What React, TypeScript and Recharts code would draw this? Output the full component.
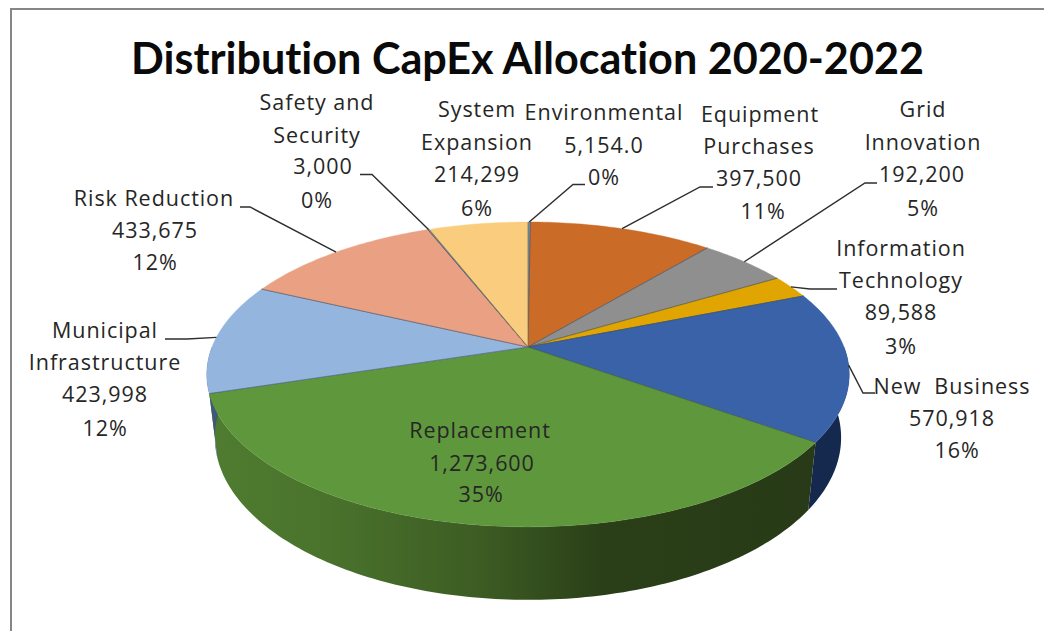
import { Pie, PieChart } from 'recharts';

const categories = [
  'Environmental',
  'Equipment Purchases',
  'Grid Innovation',
  'Information Technology',
  'New Business',
  'Replacement',
  'Municipal Infrastructure',
  'Risk Reduction',
  'Safety and Security',
  'System Expansion',
];
const values = [5154, 397500, 192200, 89588, 570918, 1273600, 423998, 433675, 3000, 214299];
const valueLabels = [
  '5,154.0',
  '397,500',
  '192,200',
  '89,588',
  '570,918',
  '1,273,600',
  '423,998',
  '433,675',
  '3,000',
  '214,299',
];
const percentLabels = ['0%', '11%', '5%', '3%', '16%', '35%', '12%', '12%', '0%', '6%'];
const sliceColors = [
  '#6f9cc4',
  '#cb6b28',
  '#8f8f8f',
  '#e0a500',
  '#3a62a9',
  '#5f983c',
  '#93b5de',
  '#eaa183',
  '#7d8a94',
  '#f9cd7d',
];
const wallColors: Record<string, string> = {
  'New Business': '#15294f',
  Replacement: 'url(#replacementWall)',
  'Municipal Infrastructure': '#3f5878',
};

const tableData = categories.map((name, i) => ({ name, value: values[i], fill: sliceColors[i] }));

// Projection of the disc: slightly narrower toward the back, like a tilted camera
const topDisc = { cx: 528, cy: 347, rx: 316, ry: 147.5, p: 0.18 };
const bottomDisc = { cx: 528, cy: 408.4, rx: 308, ry: 157, p: 0.18 };
const RAD = Math.PI / 180;

type Disc = typeof topDisc;

const project = (d: Disc, angle: number) => {
  const u = Math.cos(angle * RAD);
  const v = Math.sin(angle * RAD);
  const w = 1 + d.p * v;
  return { x: d.cx + (d.rx * u) / w, y: d.cy - (d.ry * v) / w };
};

const arcPoints = (d: Disc, from: number, to: number) => {
  const steps = Math.max(1, Math.ceil(Math.abs(from - to)));
  const pts = [];
  for (let i = 0; i <= steps; i++) pts.push(project(d, from + ((to - from) * i) / steps));
  return pts;
};

const toPath = (pts: { x: number; y: number }[]) =>
  pts.map((p, i) => `${i ? 'L' : 'M'}${p.x.toFixed(2)} ${p.y.toFixed(2)}`).join(' ');

const TopSlice = (props: any) => {
  const { startAngle, endAngle, fill } = props;
  const arc = arcPoints(topDisc, startAngle, endAngle);
  const centre = { x: topDisc.cx, y: topDisc.cy };
  const first = arc[0];
  const last = arc[arc.length - 1];
  return (
    <g>
      <path d={`M${centre.x} ${centre.y} ${toPath(arc).replace('M', 'L')} Z`} fill={fill} stroke={fill} strokeWidth={0.4} />
      <path
        d={`M${first.x} ${first.y} L${centre.x} ${centre.y} L${last.x} ${last.y}`}
        fill="none"
        stroke="#37475a"
        strokeOpacity={0.55}
        strokeWidth={0.9}
      />
    </g>
  );
};

// Side wall, only for the part of a slice that faces the viewer
const WallSlice = (props: any) => {
  const { startAngle, endAngle, name } = props;
  const hi = Math.min(startAngle, 0);
  const lo = Math.max(endAngle, -180);
  if (hi <= lo || !wallColors[name]) return <g />;
  const upper = arcPoints(topDisc, hi, lo);
  const lower = arcPoints(bottomDisc, lo, hi);
  return <path d={`${toPath(upper)} ${toPath(lower).replace('M', 'L')} Z`} fill={wallColors[name]} />;
};

const nameLines: Record<string, string[]> = {
  Environmental: ['Environmental'],
  'Equipment Purchases': ['Equipment', 'Purchases'],
  'Grid Innovation': ['Grid', 'Innovation'],
  'Information Technology': ['Information', 'Technology'],
  'New Business': ['New  Business'],
  Replacement: ['Replacement'],
  'Municipal Infrastructure': ['Municipal', 'Infrastructure'],
  'Risk Reduction': ['Risk Reduction'],
  'Safety and Security': ['Safety and', 'Security'],
  'System Expansion': ['System', 'Expansion'],
};

// Per-line centre x and baseline y of every label
const labelLayout: Record<string, { xs: number[]; ys: number[] }> = {
  Environmental: { xs: [604, 604, 604], ys: [120, 153, 185] },
  'Equipment Purchases': { xs: [760, 759, 759, 763], ys: [122, 154, 186, 219] },
  'Grid Innovation': { xs: [923, 923, 922, 923], ys: [117, 150, 182, 216] },
  'Information Technology': { xs: [901, 901, 901, 901], ys: [256, 288, 320, 354] },
  'New Business': { xs: [952, 952, 957], ys: [394, 426, 458] },
  Replacement: { xs: [480, 482, 481], ys: [438, 471, 502] },
  'Municipal Infrastructure': { xs: [105, 105, 105, 105], ys: [338, 370, 402, 436] },
  'Risk Reduction': { xs: [154, 155, 155], ys: [206, 238, 270] },
  'Safety and Security': { xs: [317, 317, 323, 317], ys: [110, 143, 174, 208] },
  'System Expansion': { xs: [477, 477, 477, 477], ys: [117, 150, 182, 216] },
};

// Elbow and end of each leader line, from the rim outward
const leaderLayout: Record<string, number[][]> = {
  Environmental: [[573, 184.5], [585, 184.5]],
  'Equipment Purchases': [[700, 187], [713, 187]],
  'Grid Innovation': [[865, 183], [877, 183]],
  'Information Technology': [[810, 289], [837, 289]],
  'New Business': [[863, 393], [875, 393]],
  'Municipal Infrastructure': [[187, 339], [165, 339]],
  'Risk Reduction': [[250, 207], [240, 207]],
  'Safety and Security': [[372, 174.5], [360, 174.5]],
};

const SliceLabel = (props: any) => {
  const i = categories.indexOf(props.name);
  const lines = [...nameLines[props.name], valueLabels[i], percentLabels[i]];
  const { xs, ys } = labelLayout[props.name];
  return (
    <text
      fontFamily="'Open Sans', sans-serif"
      fontSize={21.5}
      letterSpacing={0.95}
      fill="#262626"
      textAnchor="middle"
      xmlSpace="preserve"
    >
      {lines.map((line, n) => (
        <tspan key={n} x={xs[n]} y={ys[n]}>
          {line}
        </tspan>
      ))}
    </text>
  );
};

const LeaderLine = (props: any) => {
  const tail = leaderLayout[props.name];
  if (!tail) return <g />;
  const tip = project(topDisc, props.midAngle);
  const pts = [[tip.x, tip.y], ...tail].map((p) => p.join(',')).join(' ');
  return <polyline points={pts} fill="none" stroke="#2e2e2e" strokeWidth={1.4} />;
};

export default function App() {
  return (
    <div style={{ position: 'absolute', left: 0, top: 0, width: 1044, height: 631, background: '#fff', overflow: 'hidden' }}>
      <div
        style={{
          position: 'absolute',
          left: 10,
          top: 8,
          width: 1034,
          height: 623,
          borderLeft: '2px solid #868686',
          borderTop: '2px solid #868686',
          boxSizing: 'border-box',
        }}
      />
      <div style={{ position: 'absolute', left: 0, top: 0 }}>
        <PieChart width={1044} height={631} margin={{ top: 0, right: 0, bottom: 0, left: 0 }}>
          <defs>
            <linearGradient id="replacementWall" gradientUnits="userSpaceOnUse" x1="208" y1="0" x2="815" y2="0">
              <stop offset="0" stopColor="#4f7d30" />
              <stop offset="0.2" stopColor="#4a722c" />
              <stop offset="0.45" stopColor="#3c5c23" />
              <stop offset="0.65" stopColor="#2a3f18" />
              <stop offset="1" stopColor="#283a17" />
            </linearGradient>
          </defs>
          <text
            x={527.5}
            y={74}
            textAnchor="middle"
            fontFamily="Lato, sans-serif"
            fontWeight={700}
            fontSize={43.15}
            fill="#0a0a0a"
            style={{ fontVariantLigatures: 'none' }}
          >
            Distribution CapEx Allocation 2020-2022
          </text>
          <Pie
            data={tableData}
            dataKey="value"
            nameKey="name"
            cx={topDisc.cx}
            cy={topDisc.cy}
            outerRadius={topDisc.rx}
            startAngle={90}
            endAngle={-270}
            shape={WallSlice}
            isAnimationActive={false}
            rootTabIndex={-1}
          />
          <Pie
            data={tableData}
            dataKey="value"
            nameKey="name"
            cx={topDisc.cx}
            cy={topDisc.cy}
            outerRadius={topDisc.rx}
            startAngle={90}
            endAngle={-270}
            shape={TopSlice}
            label={SliceLabel}
            labelLine={LeaderLine}
            isAnimationActive={false}
            rootTabIndex={-1}
          />
        </PieChart>
      </div>
    </div>
  );
}
